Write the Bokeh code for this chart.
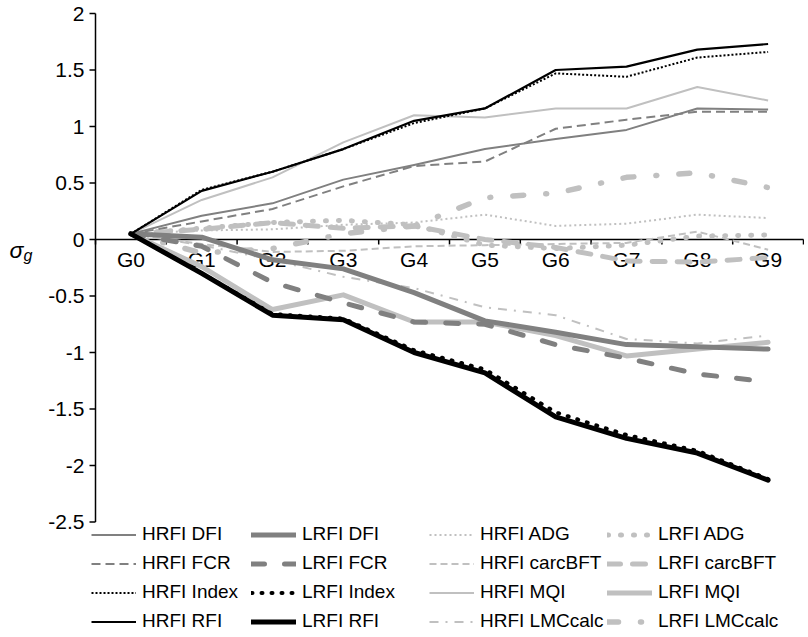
from bokeh.plotting import figure
from bokeh.models import Legend, LegendItem, Range1d, ColumnDataSource
from bokeh.core.properties import value
from bokeh.embed import file_html
from bokeh.resources import INLINE

# ---------------- data ----------------
generations = ["G0", "G1", "G2", "G3", "G4", "G5", "G6", "G7", "G8", "G9"]

hrfi_dfi = [0.05, 0.21, 0.32, 0.53, 0.66, 0.80, 0.89, 0.97, 1.16, 1.15]
hrfi_fcr = [0.05, 0.16, 0.27, 0.47, 0.65, 0.69, 0.98, 1.06, 1.13, 1.13]
hrfi_index = [0.05, 0.44, 0.60, 0.80, 1.03, 1.16, 1.47, 1.44, 1.61, 1.66]
hrfi_rfi = [0.05, 0.43, 0.60, 0.80, 1.05, 1.16, 1.50, 1.53, 1.68, 1.73]
lrfi_dfi = [0.05, 0.02, -0.18, -0.26, -0.47, -0.72, -0.82, -0.93, -0.95, -0.97]
lrfi_fcr = [0.05, -0.06, -0.38, -0.56, -0.73, -0.75, -0.93, -1.05, -1.19, -1.26]
lrfi_index = [0.05, -0.30, -0.66, -0.70, -0.98, -1.15, -1.53, -1.73, -1.87, -2.12]
lrfi_rfi = [0.05, -0.30, -0.67, -0.71, -1.00, -1.18, -1.57, -1.76, -1.89, -2.13]
hrfi_adg = [0.05, 0.08, 0.09, 0.13, 0.15, 0.22, 0.12, 0.14, 0.22, 0.19]
hrfi_carcbft = [0.05, -0.04, -0.11, -0.10, -0.06, -0.05, -0.04, -0.03, 0.07, -0.09]
hrfi_mqi = [0.05, 0.35, 0.55, 0.86, 1.10, 1.08, 1.16, 1.16, 1.35, 1.23]
hrfi_lmccalc = [0.05, -0.05, -0.18, -0.33, -0.43, -0.60, -0.67, -0.88, -0.92, -0.85]
lrfi_adg = [0.05, 0.10, 0.15, 0.17, 0.13, -0.05, -0.08, -0.05, 0.03, 0.04]
lrfi_carcbft = [0.05, 0.09, 0.15, 0.10, 0.12, 0.00, -0.07, -0.19, -0.20, -0.16]
lrfi_mqi = [0.05, -0.24, -0.62, -0.49, -0.73, -0.73, -0.85, -1.03, -0.97, -0.91]
lrfi_lmccalc = [0.05, -0.12, -0.08, 0.05, 0.12, 0.37, 0.41, 0.55, 0.59, 0.46]

y_ticks = [-2.5, -2, -1.5, -1, -0.5, 0, 0.5, 1, 1.5, 2]
y_tick_labels = ["-2.5", "-2", "-1.5", "-1", "-0.5", "0", "0.5", "1", "1.5", "2"]

# ---------------- styles / layout ----------------
DARK = "#808080"
LIGHT = "#c0c0c0"
BLACK = "#000000"
FONT = "Liberation Sans"

W, H = 804, 633
AX_X = 95          # px of the value axis (category boundary 0)
PX_X = 70.8        # px per category
TOP_Y = 13         # px of y = 2
PX_Y = 113.0       # px per unit
n = len(generations)
x_start = -AX_X / PX_X
x_end = n + (W - (AX_X + n * PX_X)) / PX_X
y_end = y_ticks[-1] + TOP_Y / PX_Y
y_start = y_ticks[-1] - (H - TOP_Y) / PX_Y


def dx(px):
    return px / PX_X


def dy(px):
    return px / PX_Y


# name, values, color, width, dash
series = [
    ("HRFI DFI", hrfi_dfi, DARK, 2, "solid"),
    ("HRFI FCR", hrfi_fcr, DARK, 2, "9 5"),
    ("HRFI Index", hrfi_index, BLACK, 2, "2 2"),
    ("HRFI RFI", hrfi_rfi, BLACK, 2.2, "solid"),
    ("LRFI DFI", lrfi_dfi, DARK, 5, "solid"),
    ("LRFI FCR", lrfi_fcr, DARK, 5, "13 20"),
    ("LRFI Index", lrfi_index, BLACK, 4, "1 9"),
    ("LRFI RFI", lrfi_rfi, BLACK, 5, "solid"),
    ("HRFI ADG", hrfi_adg, LIGHT, 2, "2 3"),
    ("HRFI carcBFT", hrfi_carcbft, LIGHT, 2, "7 4"),
    ("HRFI MQI", hrfi_mqi, LIGHT, 2, "solid"),
    ("HRFI LMCcalc", hrfi_lmccalc, LIGHT, 2, "9 7 2 7"),
    ("LRFI ADG", lrfi_adg, LIGHT, 5, "1 12"),
    ("LRFI carcBFT", lrfi_carcbft, LIGHT, 5, "13 12"),
    ("LRFI MQI", lrfi_mqi, LIGHT, 5, "solid"),
    ("LRFI LMCcalc", lrfi_lmccalc, LIGHT, 5.5, "11 22 1 22"),
]

x_centers = [i + 0.5 for i in range(n)]
x_bounds = list(range(n + 1))

p = figure(width=W, height=H,
           x_range=Range1d(x_start, x_end), y_range=Range1d(y_start, y_end),
           output_backend="svg", toolbar_location=None,
           x_axis_location=None, y_axis_location=None,
           min_border=0, min_border_left=0, min_border_right=0,
           min_border_top=0, min_border_bottom=0)
p.xgrid.visible = False
p.ygrid.visible = False
p.outline_line_color = None
p.background_fill_color = "white"

# ---- value axis (left) ----
p.segment(x0=[0], y0=[y_ticks[0]], x1=[0], y1=[y_ticks[-1]],
          line_color="black", line_width=1.5)
p.segment(x0=[0] * len(y_ticks), y0=y_ticks, x1=[-dx(6)] * len(y_ticks), y1=y_ticks,
          line_color="black", line_width=1.5)
p.text(x=[0] * len(y_ticks), y=y_ticks, text=y_tick_labels, x_offset=-11,
       text_font=value(FONT), text_font_size="21px", text_color="black",
       text_align="right", text_baseline="middle")

# ---- category axis at y = 0 ----
p.segment(x0=[0], y0=[0], x1=[n], y1=[0], line_color="black", line_width=1.5)
p.segment(x0=x_bounds, y0=[0] * len(x_bounds), x1=x_bounds,
          y1=[-dy(5)] * len(x_bounds), line_color="black", line_width=1.5)
p.text(x=[0] * 0 + x_centers, y=[0] * n, text=generations,
       text_font=value(FONT), text_font_size="21px", text_color="black",
       text_align="center", text_baseline="top", y_offset=8)

# ---- y label sigma_g ----
p.text(x=[-dx(86)], y=[-dy(10)], text=["σ"],
       text_font=value(FONT), text_font_style="italic", text_font_size="23px",
       text_color="black", text_align="left", text_baseline="alphabetic")
p.text(x=[-dx(72)], y=[-dy(16)], text=["g"],
       text_font=value(FONT), text_font_style="italic", text_font_size="16px",
       text_color="black", text_align="left", text_baseline="alphabetic")

# ---- series: light first, then dark, black on top ----
order = ([s for s in series if s[2] == LIGHT] + [s for s in series if s[2] == DARK]
         + [s for s in series if s[2] == BLACK])
renderers = {}
for name, vals, color, width, dash in order:
    src = ColumnDataSource(dict(x=x_centers, y=vals))
    cap = "butt" if width < 3 else "round"
    r = p.line("x", "y", source=src, line_color=color, line_width=width,
               line_dash=dash, line_cap=cap, line_join="round")
    renderers[name] = r

# ---- legend: four columns ----
col_x = [91, 251, 429, 607]
for c in range(4):
    items = [LegendItem(label=name, renderers=[renderers[name]])
             for name, *_ in series[c * 4:(c + 1) * 4]]
    lg = Legend(items=items, location=(col_x[c], 1),
                label_text_font=FONT, label_text_font_size="19px",
                label_text_color="black",
                glyph_width=45, glyph_height=21, label_height=21,
                spacing=7, label_standoff=6, padding=0, margin=0,
                border_line_color=None, background_fill_alpha=0)
    p.add_layout(lg)

open("out.html", "w").write(file_html(p, INLINE))
